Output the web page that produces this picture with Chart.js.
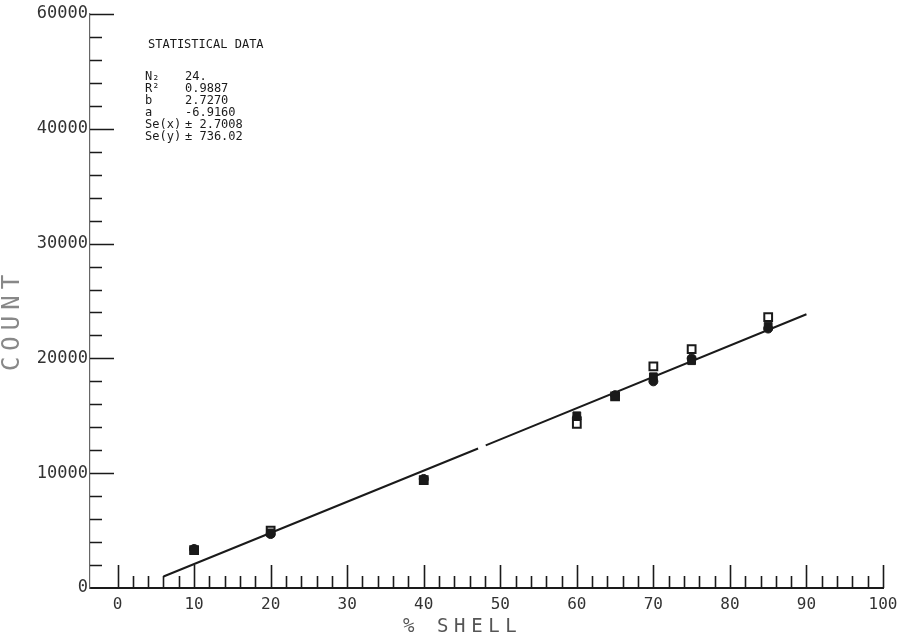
<!DOCTYPE html>
<html>
<head>
<meta charset="utf-8">
<script src="https://cdn.jsdelivr.net/npm/chart.js@4.4.1/dist/chart.umd.min.js"></script>
<style>
  html, body { margin: 0; padding: 0; background: #fff; }
  #wrap { width: 906px; height: 638px; }
</style>
</head>
<body>
<div id="wrap"><canvas id="c" width="906" height="638"></canvas></div>
<script>
// % shell of each calibration sample
const shellPct = [10, 20, 40, 60, 65, 70, 75, 85];
// measured counts, one list per marker type
const countSolidSquare = [3300, 4800, 9400, 15000, 16700, 18400, 19800, 22800];
const countOpenSquare  = [3300, 5000, 9400, 14300, 16700, 19300, 20800, 23600];
const countDot         = [3400, 4700, 9500, 14800, 16800, 18000, 20000, 22600];

// least-squares line (short break in the pen stroke near 48 %)
const fitX = [6, 47.1, 47.6, 48.1, 90];
const fitY = [1000, 12150, null, 12430, 23850];

// axes
const xTickValues = [0, 10, 20, 30, 40, 50, 60, 70, 80, 90, 100];
const yTickValues = [0, 10000, 20000, 30000, 40000, 50000];
const yTickLabels = ['0', '10000', '20000', '30000', '40000', '60000'];
const xTitle = '% SHELL';
const yTitle = 'COUNT';

// statistics block
const statTitle = 'STATISTICAL DATA';
const statNames  = ['N\u2082', 'R\u00B2', 'b', 'a', 'Se(x)', 'Se(y)'];
const statValues = ['24.', '0.9887', '2.7270', '-6.9160', '\u00B1 2.7008', '\u00B1 736.02'];

const MONO = '"DejaVu Sans Mono", "Liberation Mono", monospace';
const INK = '#1a1a1a';

const pts = (ys) => shellPct.map((x, i) => ({ x, y: ys[i] }));

// inward-pointing tick marks along both axes
const innerTicks = {
  id: 'innerTicks',
  beforeDatasetsDraw(chart) {
    const { ctx, chartArea: a, scales: { x, y } } = chart;
    ctx.save();
    ctx.strokeStyle = INK;
    ctx.lineWidth = 1.6;
    ctx.beginPath();
    for (let v = 0; v <= 100; v += 2) {
      const px = Math.round(x.getPixelForValue(v)) + 0.5;
      const len = v % 10 === 0 ? 23 : 12;
      ctx.moveTo(px, a.bottom);
      ctx.lineTo(px, a.bottom - len);
    }
    for (let v = 2000; v <= 50000; v += 2000) {
      const py = Math.round(y.getPixelForValue(v)) + 0.5;
      const len = v % 10000 === 0 ? 24 : 12;
      ctx.moveTo(a.left, py);
      ctx.lineTo(a.left + len, py);
    }
    ctx.stroke();
    ctx.restore();
  }
};

// axis titles in a widely spaced plotter-style lettering
const axisTitles = {
  id: 'axisTitles',
  afterDraw(chart) {
    const { ctx, chartArea: a } = chart;
    ctx.save();
    ctx.textAlign = 'left';
    ctx.textBaseline = 'middle';

    ctx.fillStyle = '#555';
    ctx.font = '19px ' + MONO;
    ctx.letterSpacing = '5.6px';
    ctx.fillText(xTitle, a.left + 313, a.bottom + 39);

    ctx.textAlign = 'center';
    ctx.fillStyle = '#888';
    ctx.font = '24px ' + MONO;
    ctx.letterSpacing = '6px';
    ctx.translate(13, a.top + 306);
    ctx.rotate(-Math.PI / 2);
    ctx.fillText(yTitle, 0, 0);
    ctx.restore();
  }
};

// statistics text in the upper left of the plot
const statsBlock = {
  id: 'statsBlock',
  afterDraw(chart) {
    const { ctx } = chart;
    ctx.save();
    ctx.fillStyle = INK;
    ctx.font = '12px ' + MONO;
    ctx.textBaseline = 'middle';
    ctx.textAlign = 'left';
    ctx.fillText(statTitle, 148, 45);
    statNames.forEach((n, i) => {
      const yy = 77 + i * 12;
      ctx.fillText(n, 145, yy);
      ctx.fillText(statValues[i], 185, yy);
    });
    ctx.restore();
  }
};

new Chart(document.getElementById('c'), {
  type: 'scatter',
  data: {
    datasets: [
      {
        label: 'solid square',
        data: pts(countSolidSquare),
        pointStyle: 'rect',
        pointRadius: 5.5,
        backgroundColor: INK,
        borderColor: INK,
        borderWidth: 1,
        order: 0
      },
      {
        label: 'fit',
        type: 'line',
        data: fitX.map((x, i) => ({ x, y: fitY[i] })),
        borderColor: INK,
        borderWidth: 2,
        pointRadius: 0,
        spanGaps: false,
        fill: false,
        order: 1
      },
      {
        label: 'open square',
        data: pts(countOpenSquare),
        pointStyle: 'rect',
        pointRadius: 5.5,
        backgroundColor: '#fff',
        borderColor: INK,
        borderWidth: 2,
        order: 2
      },
      {
        label: 'dot',
        data: pts(countDot),
        pointStyle: 'circle',
        pointRadius: 4.5,
        backgroundColor: INK,
        borderColor: INK,
        borderWidth: 1,
        order: 3
      }
    ]
  },
  options: {
    responsive: false,
    animation: false,
    layout: { padding: { left: 0, right: 23, top: 14, bottom: 0 } },
    plugins: {
      legend: { display: false },
      tooltip: { enabled: false }
    },
    scales: {
      x: {
        type: 'linear',
        min: -3.6,
        max: 100,
        afterBuildTicks: (s) => { s.ticks = xTickValues.map(v => ({ value: v })); },
        afterFit: (s) => { s.height = 50; },
        grid: { display: false, drawTicks: false },
        border: { display: true, color: INK, width: 2 },
        ticks: {
          padding: 7,
          color: '#333',
          font: { family: MONO, size: 16 },
          maxRotation: 0,
          autoSkip: false
        },
        title: { display: false }
      },
      y: {
        type: 'linear',
        min: 0,
        max: 50000,
        afterBuildTicks: (s) => { s.ticks = yTickValues.map(v => ({ value: v })); },
        afterFit: (s) => { s.width = 90; },
        grid: { display: false, drawTicks: false },
        border: { display: true, color: '#666', width: 1.2, dash: [2, 2] },
        ticks: {
          padding: 2,
          color: '#333',
          font: { family: MONO, size: 17 },
          autoSkip: false,
          callback: (v) => yTickLabels[yTickValues.indexOf(v)]
        },
        title: { display: false }
      }
    }
  },
  plugins: [innerTicks, axisTitles, statsBlock]
});
</script>
</body>
</html>
